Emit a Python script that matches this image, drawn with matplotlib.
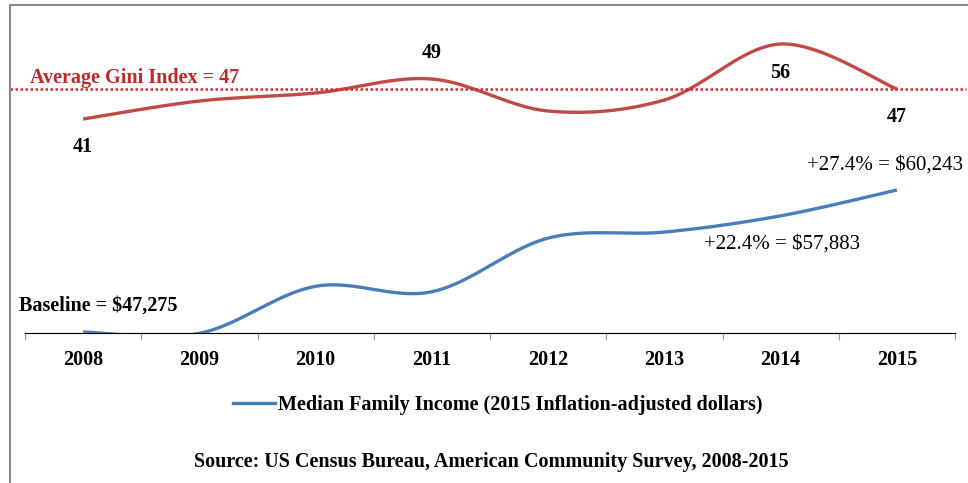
import numpy as np
import matplotlib.pyplot as plt
from matplotlib.lines import Line2D

years = ["2008", "2009", "2010", "2011", "2012", "2013", "2014", "2015"]
income = [47275, 47150, 51450, 50950, 55850, 56400, 57883, 60243]
gini = [41, 44.6, 46.2, 49, 42.6, 44.8, 56, 47]
gini_avg = 47

blue = "#4A7EBB"
red = "#BE4B48"
serif = "Liberation Serif"
fs = 14.5


def smooth(xs, ys, n=40):
    # catmull-rom, close to excel's "smoothed line"
    pts = np.column_stack([xs, ys]).astype(float)
    p = np.vstack([pts[0], pts, pts[-1]])
    t = np.linspace(0, 1, n)[:, None]
    out = []
    for i in range(1, len(p) - 2):
        p0, p1, p2, p3 = p[i - 1], p[i], p[i + 1], p[i + 2]
        seg = 0.5 * (2 * p1 + (-p0 + p2) * t + (2 * p0 - 5 * p1 + 4 * p2 - p3) * t ** 2
                     + (-p0 + 3 * p1 - 3 * p2 + p3) * t ** 3)
        out.append(seg)
    return np.vstack(out)


x = np.arange(len(years))

fig = plt.figure(figsize=(9.68, 4.83), dpi=100)
ax = fig.add_axes([25 / 968, 150 / 483, 930 / 968, 313 / 483])
ax2 = ax.twinx()

c = smooth(x, income)
ax.plot(c[:, 0], c[:, 1], color=blue, lw=2.4, solid_capstyle="butt")
ax.set_ylim(47184, 75768)
ax.set_xlim(-0.5, len(years) - 0.5)

g = smooth(x, gini)
ax2.plot(g[:, 0], g[:, 1], color=red, lw=2.4, solid_capstyle="butt")
ax2.set_ylim(-1.8, 60.8)
ax2.axhline(gini_avg, xmin=-0.016, xmax=1.012, color="#D42A2A", lw=1.8,
            ls=(0, (1, 1)), clip_on=False)
ax2.text(0.0054, gini_avg + 2.1, "Average Gini Index = " + str(gini_avg),
         transform=ax2.get_yaxis_transform(), color="#C0282A",
         fontsize=fs, fontweight="bold", family=serif, va="center", ha="left")

for a in (ax, ax2):
    for s in ("top", "right", "left"):
        a.spines[s].set_visible(False)
    a.set_yticks([])
ax.spines["bottom"].set_color("#9A9A9A")
ax.set_xticks(np.arange(-0.5, len(years), 1.0))
ax.set_xticklabels([])
ax.set_xticks(x, minor=True)
ax.set_xticklabels(years, minor=True, fontsize=fs, fontweight="bold", family=serif)
ax.tick_params(axis="x", which="major", length=5, color="#9A9A9A", direction="out")
ax.tick_params(axis="x", which="minor", length=0, pad=12)

# gini data labels
gini_offsets = {0: -20, 3: 19, 6: -21, 7: -20}
for i, dy in gini_offsets.items():
    ax2.annotate("%g" % gini[i], (x[i], gini[i]), xytext=(0, dy), textcoords="offset points",
                 ha="center", va="center", fontsize=fs, fontweight="bold", family=serif)

ax.annotate("Baseline = $%s" % format(income[0], ","), (x[0], income[0]), xytext=(11, 19),
            textcoords="offset points", ha="center", va="center", fontsize=fs,
            fontweight="bold", family=serif)
pct14 = (income[6] / income[0] - 1) * 100
pct15 = (income[7] / income[0] - 1) * 100
ax.annotate("+%.1f%% = $%s" % (pct14, format(income[6], ",")), (x[6], income[6]),
            xytext=(1, -20), textcoords="offset points", ha="center", va="center",
            fontsize=15, family=serif)
ax.annotate("+%.1f%% = $%s" % (pct15, format(income[7], ",")), (x[7], income[7]),
            xytext=(-8.5, 18), textcoords="offset points", ha="center", va="center",
            fontsize=15, family=serif)

# legend and source
h = Line2D([], [], color=blue, lw=2.4)
fig.legend([h], ["Median Family Income (2015 Inflation-adjusted dollars)"],
           loc="center", bbox_to_anchor=(498 / 968, 1 - 405 / 483), frameon=False,
           handlelength=2.07, handletextpad=0.15,
           prop={"family": serif, "weight": "bold", "size": fs})
fig.text(491 / 968, 1 - 462 / 483, "Source: US Census Bureau, American Community Survey, 2008-2015",
         ha="center", va="center", fontsize=fs, fontweight="bold", family=serif)

# chart border (left and top edges)
fig.add_artist(Line2D([10 / 968, 10 / 968, 1], [0, 1 - 5 / 483, 1 - 5 / 483],
                      transform=fig.transFigure, color="#8A8A8A", lw=1.5))

fig.savefig("out.png", dpi=100)
